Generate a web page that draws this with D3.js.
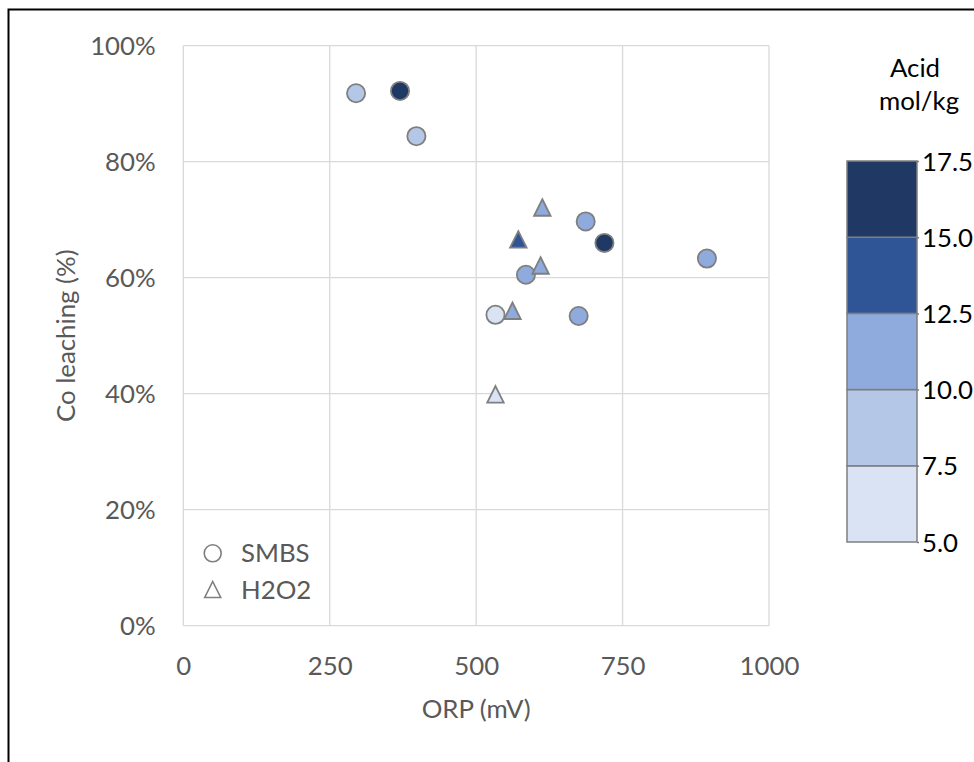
<!DOCTYPE html>
<html>
<head>
<meta charset="utf-8">
<script src="https://cdn.jsdelivr.net/npm/d3@7"></script>
<style>
  body { margin: 0; background: #fff; }
  svg { display: block; font-family: Lato, "Open Sans", sans-serif; }
</style>
</head>
<body>
<svg id="chart" width="974" height="762"></svg>
<script>
// ---- data ----
const smbsORP  = [295, 370, 398, 687, 719, 894, 585, 533, 675];
const smbsCo   = [91.8, 92.2, 84.4, 69.7, 66.0, 63.3, 60.5, 53.6, 53.4];
const smbsAcid = [8.5, 16.0, 8.5, 11.0, 16.0, 11.0, 11.0, 6.0, 11.0];

const h2o2ORP  = [613, 572, 610, 562, 533];
const h2o2Co   = [72.1, 66.6, 62.1, 54.3, 39.9];
const h2o2Acid = [11.0, 13.5, 11.0, 11.0, 6.0];

const xTicks = [0, 250, 500, 750, 1000];
const yTicks = [0, 20, 40, 60, 80, 100];
const acidBreaks = [5.0, 7.5, 10.0, 12.5, 15.0, 17.5];
const acidColors = ["#DAE3F3", "#B4C7E7", "#8FAADC", "#2F5597", "#203864"];
const seriesNames = ["SMBS", "H2O2"];

// ---- layout ----
const svg = d3.select("#chart");
const plot = { left: 183.3, right: 769, top: 45.7, bottom: 625.7 };
const gridColor = "#D9D9D9";
const textColor = "#595959";
const markerStroke = "#7F7F7F";
const fontSize = 25.8;

const x = d3.scaleLinear().domain([0, 1000]).range([plot.left, plot.right]);
const y = d3.scaleLinear().domain([0, 100]).range([plot.bottom, plot.top]);
const color = d3.scaleThreshold().domain(acidBreaks.slice(1, -1)).range(acidColors);

// outer frame
svg.append("rect")
  .attr("x", 8.5).attr("y", 9.5).attr("width", 1200).attr("height", 1200)
  .attr("fill", "none").attr("stroke", "#000").attr("stroke-width", 2);

// gridlines
svg.append("g").selectAll("line").data(xTicks).join("line")
  .attr("x1", d => x(d)).attr("x2", d => x(d))
  .attr("y1", plot.top).attr("y2", plot.bottom)
  .attr("stroke", gridColor).attr("stroke-width", 1.3);
svg.append("g").selectAll("line").data(yTicks).join("line")
  .attr("x1", plot.left).attr("x2", plot.right)
  .attr("y1", d => y(d)).attr("y2", d => y(d))
  .attr("stroke", gridColor).attr("stroke-width", 1.3);

// axes
const xAxis = svg.append("g")
  .attr("transform", `translate(0,${plot.bottom})`)
  .call(d3.axisBottom(x).tickValues(xTicks).tickSize(0).tickFormat(d3.format("d")));
xAxis.select(".domain").remove();
xAxis.selectAll("text")
  .attr("y", 49.3).attr("dy", 0)
  .attr("fill", textColor).style("font-size", fontSize + "px").style("font-family", "Lato");

const yAxis = svg.append("g")
  .attr("transform", `translate(${plot.left},0)`)
  .call(d3.axisLeft(y).tickValues(yTicks).tickSize(0).tickFormat(d => d + "%"));
yAxis.select(".domain").remove();
yAxis.selectAll("text")
  .attr("x", -27.6).attr("dy", "0.35em")
  .attr("fill", textColor).style("font-size", fontSize + "px").style("font-family", "Lato");

// axis titles
svg.append("text")
  .attr("x", (plot.left + plot.right) / 2).attr("y", 718)
  .attr("text-anchor", "middle").attr("fill", textColor)
  .style("font-size", fontSize + "px").text("ORP (mV)");
svg.append("text")
  .attr("transform", `translate(75,${(plot.top + plot.bottom) / 2}) rotate(-90)`)
  .attr("text-anchor", "middle").attr("fill", textColor)
  .style("font-size", fontSize + "px").text("Co leaching (%)");

// triangle symbol (Excel-like, width = height)
const triangle = {
  draw(ctx, size) {
    const h = Math.sqrt(size);
    ctx.moveTo(0, -h / 2);
    ctx.lineTo(h / 2, h / 2);
    ctx.lineTo(-h / 2, h / 2);
    ctx.closePath();
  }
};
const triPath = d3.symbol().type(triangle).size(16.5 * 16.5)();

// SMBS circles
const smbs = smbsORP.map((v, i) => ({ orp: v, co: smbsCo[i], acid: smbsAcid[i] }));
svg.append("g").selectAll("circle").data(smbs).join("circle")
  .attr("cx", d => x(d.orp)).attr("cy", d => y(d.co)).attr("r", 9.1)
  .attr("fill", d => color(d.acid))
  .attr("stroke", markerStroke).attr("stroke-width", 1.8);

// H2O2 triangles
const h2o2 = h2o2ORP.map((v, i) => ({ orp: v, co: h2o2Co[i], acid: h2o2Acid[i] }));
svg.append("g").selectAll("path").data(h2o2).join("path")
  .attr("transform", d => `translate(${x(d.orp)},${y(d.co)})`)
  .attr("d", triPath)
  .attr("fill", d => color(d.acid))
  .attr("stroke", markerStroke).attr("stroke-width", 1.8).attr("stroke-linejoin", "miter");

// legend
const lg = svg.append("g");
lg.append("circle").attr("cx", 212.7).attr("cy", 553.3).attr("r", 8.5)
  .attr("fill", "#fff").attr("stroke", markerStroke).attr("stroke-width", 1.6);
lg.append("path").attr("transform", "translate(212.7,589.5)")
  .attr("d", d3.symbol().type(triangle).size(16 * 16)())
  .attr("fill", "#fff").attr("stroke", markerStroke).attr("stroke-width", 1.6);
lg.selectAll("text").data(seriesNames).join("text")
  .attr("x", 241).attr("y", (d, i) => 553.3 + i * 36.2).attr("dy", "0.35em")
  .attr("fill", textColor).style("font-size", fontSize + "px").text(d => d);

// color bar
const cb = { left: 847, right: 917, top: 161, bottom: 542 };
const cy = d3.scaleLinear().domain([5, 17.5]).range([cb.bottom, cb.top]);
const segs = acidColors.map((c, i) => ({ lo: acidBreaks[i], hi: acidBreaks[i + 1], c }));
svg.append("g").selectAll("rect").data(segs).join("rect")
  .attr("x", cb.left).attr("width", cb.right - cb.left)
  .attr("y", d => cy(d.hi)).attr("height", d => cy(d.lo) - cy(d.hi))
  .attr("fill", d => d.c)
  .attr("stroke", markerStroke).attr("stroke-width", 1.5);
const cbAxis = svg.append("g")
  .attr("transform", `translate(${cb.right},0)`)
  .call(d3.axisRight(cy).tickValues(acidBreaks).tickSize(2).tickPadding(3).tickFormat(d3.format(".1f")));
cbAxis.select(".domain").remove();
cbAxis.selectAll("line").attr("stroke", markerStroke).attr("stroke-width", 1.5);
cbAxis.selectAll("text").attr("dy", "0.35em").attr("fill", "#000")
  .style("font-size", fontSize + "px").style("font-family", "Lato");

svg.append("text").attr("x", 915).attr("y", 77)
  .attr("text-anchor", "middle").attr("fill", "#000")
  .style("font-size", fontSize + "px").text("Acid");
svg.append("text").attr("x", 919).attr("y", 110)
  .attr("text-anchor", "middle").attr("fill", "#000")
  .style("font-size", fontSize + "px").text("mol/kg");
</script>
</body>
</html>
